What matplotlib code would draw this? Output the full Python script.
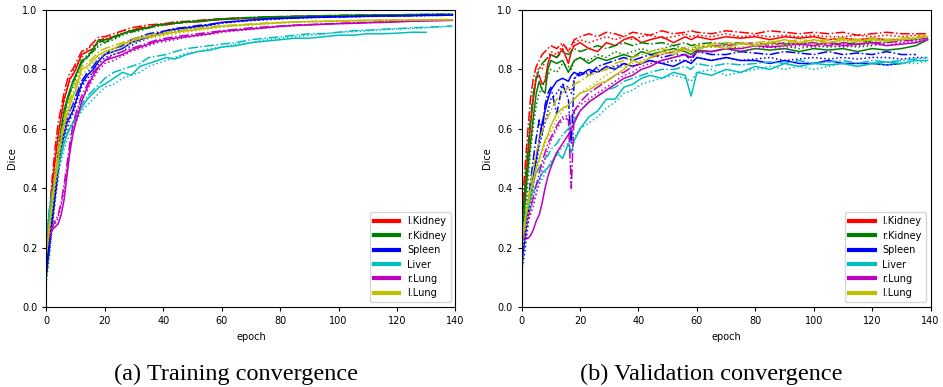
import matplotlib
matplotlib.use('Agg')
import matplotlib.pyplot as plt

organs = ['l.Kidney', 'r.Kidney', 'Spleen', 'Liver', 'r.Lung', 'l.Lung']
cores = ['r', 'g', 'b', 'c', 'm', 'y']

# epocas amostradas (treino)
ep_tr = [0,1,2,3,4,5,6,7,8,9,10,12,14,16,18,20,23,26,29,32,35,38,41,44,48,52,56,60,
         65,70,75,80,85,90,95,100,105,110,115,120,125,130,135,139]

tk_s = [0.20,0.30,0.41,0.50,0.58,0.64,0.70,0.73,0.77,0.78,0.80,0.85,0.86,0.87,0.90,0.90,0.91,0.92,0.93,0.94,0.94,0.95,0.95,0.955,0.96,0.96,0.965,0.968,0.97,0.972,0.974,0.976,0.977,0.978,0.979,0.98,0.98,0.981,0.981,0.982,0.982,0.983,0.983,0.984]
tk_d = [0.20,0.32,0.44,0.54,0.62,0.67,0.72,0.76,0.79,0.80,0.82,0.86,0.87,0.89,0.91,0.91,0.92,0.93,0.94,0.945,0.95,0.952,0.955,0.96,0.962,0.965,0.968,0.97,0.972,0.974,0.976,0.977,0.978,0.979,0.98,0.981,0.981,0.982,0.982,0.983,0.983,0.984,0.984]
tk_o = [0.19,0.29,0.39,0.49,0.57,0.63,0.69,0.74,0.76,0.79,0.81,0.84,0.87,0.88,0.89,0.91,0.91,0.93,0.93,0.94,0.945,0.95,0.953,0.957,0.96,0.962,0.966,0.969,0.971,0.973,0.975,0.977,0.978,0.979,0.98,0.98,0.981,0.982,0.982,0.983,0.983,0.984]

trk_s = [0.12,0.22,0.33,0.43,0.52,0.60,0.66,0.70,0.73,0.76,0.78,0.83,0.84,0.87,0.90,0.89,0.91,0.92,0.93,0.935,0.94,0.95,0.953,0.955,0.96,0.962,0.966,0.97,0.972,0.974,0.976,0.977,0.978,0.979,0.98,0.981,0.982,0.982,0.983,0.983,0.984,0.985,0.985,0.986]
trk_d = [0.11,0.21,0.32,0.42,0.51,0.58,0.64,0.69,0.72,0.75,0.78,0.82,0.85,0.86,0.89,0.90,0.905,0.92,0.925,0.935,0.94,0.948,0.952,0.956,0.96,0.963,0.967,0.97,0.973,0.975,0.977,0.978,0.979,0.98,0.981,0.982,0.983,0.983,0.984,0.984,0.985,0.985,0.986,0.986]
trk_o = [0.09,0.17,0.28,0.38,0.48,0.56,0.63,0.68,0.72,0.74,0.77,0.82,0.84,0.86,0.88,0.89,0.90,0.915,0.925,0.93,0.94,0.945,0.95,0.955,0.958,0.962,0.965,0.968,0.971,0.973,0.975,0.977,0.978,0.979,0.98,0.981,0.982,0.983,0.983,0.984,0.984,0.985,0.985]

ts_s = [0.13,0.22,0.30,0.38,0.46,0.53,0.58,0.62,0.64,0.66,0.69,0.75,0.78,0.80,0.83,0.85,0.86,0.87,0.89,0.90,0.91,0.92,0.93,0.935,0.94,0.945,0.95,0.958,0.962,0.966,0.97,0.972,0.973,0.975,0.976,0.977,0.978,0.979,0.98,0.98,0.981,0.982,0.982,0.983]
ts_d = [0.12,0.21,0.30,0.39,0.47,0.54,0.59,0.63,0.66,0.68,0.71,0.76,0.79,0.81,0.84,0.85,0.87,0.88,0.90,0.91,0.92,0.925,0.93,0.938,0.942,0.948,0.952,0.958,0.962,0.966,0.969,0.971,0.973,0.975,0.976,0.977,0.978,0.979,0.98,0.98,0.981,0.982,0.982,0.983]
ts_o = [0.11,0.19,0.27,0.36,0.44,0.51,0.56,0.60,0.63,0.65,0.68,0.74,0.77,0.79,0.82,0.84,0.85,0.86,0.88,0.895,0.905,0.915,0.925,0.93,0.937,0.942,0.948,0.955,0.96,0.964,0.967,0.97,0.972,0.974,0.975,0.976,0.977,0.978,0.979,0.98,0.98,0.981,0.982]

tl_s = [0.24,0.32,0.38,0.43,0.47,0.51,0.55,0.58,0.60,0.62,0.63,0.67,0.70,0.72,0.74,0.75,0.77,0.79,0.78,0.81,0.82,0.83,0.84,0.835,0.85,0.86,0.865,0.875,0.88,0.89,0.895,0.90,0.905,0.905,0.91,0.915,0.915,0.92,0.92,0.922,0.925,0.925]
tl_d = [0.25,0.33,0.39,0.44,0.48,0.52,0.56,0.58,0.61,0.62,0.64,0.68,0.71,0.73,0.75,0.77,0.79,0.80,0.81,0.82,0.84,0.845,0.85,0.86,0.87,0.875,0.88,0.885,0.89,0.9,0.905,0.91,0.915,0.92,0.92,0.925,0.93,0.932,0.935,0.937,0.94,0.942,0.944,0.946]
tl_o = [0.22,0.30,0.36,0.41,0.45,0.49,0.53,0.56,0.58,0.60,0.62,0.66,0.68,0.70,0.72,0.74,0.75,0.77,0.78,0.79,0.81,0.82,0.83,0.84,0.855,0.86,0.87,0.875,0.885,0.89,0.9,0.905,0.91,0.915,0.92,0.925,0.927,0.93,0.933,0.936,0.938,0.94,0.943,0.945]

tr_s = [0.20,0.24,0.26,0.27,0.28,0.31,0.36,0.44,0.52,0.58,0.62,0.69,0.74,0.78,0.81,0.83,0.84,0.85,0.865,0.875,0.885,0.895,0.9,0.905,0.91,0.915,0.92,0.928,0.932,0.936,0.94,0.945,0.948,0.95,0.952,0.954,0.955,0.957,0.958,0.96,0.962,0.963,0.964,0.965]
tr_d = [0.21,0.25,0.27,0.29,0.31,0.35,0.41,0.48,0.55,0.61,0.65,0.71,0.75,0.79,0.81,0.83,0.85,0.86,0.87,0.88,0.89,0.9,0.905,0.91,0.915,0.92,0.925,0.93,0.935,0.94,0.943,0.946,0.949,0.951,0.953,0.955,0.957,0.958,0.96,0.962,0.963,0.965,0.966,0.967]
tr_o = [0.19,0.23,0.26,0.28,0.30,0.34,0.39,0.46,0.53,0.59,0.63,0.70,0.73,0.77,0.80,0.82,0.83,0.845,0.86,0.87,0.88,0.89,0.895,0.9,0.908,0.913,0.918,0.925,0.93,0.935,0.94,0.944,0.947,0.95,0.952,0.954,0.956,0.958,0.96,0.961,0.963,0.964,0.966,0.967]

ty_s = [0.19,0.27,0.35,0.43,0.50,0.56,0.61,0.65,0.68,0.71,0.73,0.80,0.81,0.83,0.85,0.86,0.87,0.885,0.895,0.905,0.91,0.915,0.92,0.925,0.93,0.935,0.94,0.945,0.948,0.951,0.954,0.957,0.96,0.961,0.962,0.963,0.964,0.965,0.965,0.966,0.966,0.967,0.967,0.967]
ty_d = [0.20,0.28,0.37,0.45,0.52,0.58,0.63,0.67,0.70,0.72,0.75,0.81,0.82,0.84,0.86,0.87,0.88,0.89,0.9,0.91,0.915,0.92,0.925,0.93,0.935,0.94,0.943,0.947,0.95,0.953,0.956,0.958,0.96,0.961,0.962,0.963,0.964,0.965,0.966,0.966,0.967,0.967,0.968,0.968]
ty_o = [0.18,0.25,0.33,0.41,0.48,0.54,0.59,0.63,0.66,0.69,0.72,0.78,0.80,0.82,0.84,0.85,0.86,0.875,0.89,0.9,0.905,0.91,0.915,0.92,0.926,0.932,0.937,0.942,0.946,0.95,0.953,0.956,0.958,0.96,0.961,0.962,0.963,0.964,0.965,0.965,0.966,0.966,0.967,0.967]

# epocas amostradas (validacao)
ep_va = [0,1,2,3,4,5,6,7,8,9,10,12,14,16,17,18,20,23,26,29,32,35,38,41,44,48,52,56,58,60,
         65,70,75,80,85,90,95,100,105,110,115,120,125,130,135,139]

vk_s = [0.28,0.38,0.49,0.61,0.70,0.77,0.78,0.75,0.76,0.82,0.85,0.84,0.87,0.82,0.86,0.88,0.89,0.87,0.86,0.89,0.88,0.90,0.91,0.89,0.90,0.91,0.89,0.91,0.90,0.91,0.90,0.91,0.905,0.91,0.90,0.91,0.905,0.91,0.90,0.905,0.90,0.905,0.90,0.90]
vk_d = [0.30,0.45,0.58,0.70,0.77,0.81,0.83,0.85,0.86,0.87,0.88,0.87,0.89,0.86,0.88,0.90,0.91,0.92,0.91,0.925,0.92,0.91,0.925,0.92,0.915,0.93,0.92,0.925,0.93,0.925,0.92,0.93,0.925,0.92,0.93,0.925,0.92,0.925,0.92,0.925,0.915,0.92,0.925,0.92,0.92,0.92]
vk_o = [0.27,0.40,0.52,0.63,0.72,0.78,0.81,0.80,0.83,0.84,0.86,0.85,0.88,0.87,0.86,0.89,0.90,0.89,0.90,0.91,0.90,0.91,0.90,0.91,0.915,0.905,0.91,0.92,0.91,0.915,0.91,0.92,0.91,0.915,0.91,0.915,0.91,0.915,0.91,0.91,0.915,0.91,0.915,0.91,0.915,0.91]

vrk_s = [0.20,0.33,0.45,0.55,0.64,0.72,0.76,0.73,0.72,0.80,0.83,0.82,0.83,0.79,0.81,0.83,0.84,0.82,0.84,0.83,0.84,0.85,0.84,0.86,0.85,0.86,0.87,0.86,0.85,0.865,0.86,0.87,0.86,0.87,0.865,0.87,0.86,0.87,0.865,0.87,0.86,0.87,0.865,0.87,0.88,0.90]
vrk_d = [0.22,0.38,0.52,0.63,0.72,0.77,0.80,0.82,0.83,0.84,0.85,0.84,0.86,0.85,0.86,0.87,0.86,0.87,0.88,0.87,0.88,0.89,0.88,0.89,0.885,0.89,0.88,0.89,0.88,0.885,0.89,0.885,0.89,0.88,0.89,0.885,0.89,0.885,0.89,0.885,0.89,0.895,0.90]
vrk_o = [0.10,0.25,0.40,0.52,0.61,0.68,0.72,0.74,0.76,0.78,0.80,0.79,0.82,0.81,0.80,0.83,0.84,0.83,0.85,0.84,0.86,0.85,0.86,0.87,0.86,0.87,0.88,0.87,0.86,0.88,0.875,0.88,0.87,0.88,0.875,0.88,0.87,0.88,0.875,0.88,0.875,0.88,0.89,0.90,0.90,0.905]

vs_s = [0.15,0.22,0.30,0.38,0.44,0.50,0.56,0.62,0.66,0.70,0.73,0.76,0.77,0.76,0.78,0.79,0.78,0.80,0.79,0.81,0.80,0.82,0.81,0.82,0.83,0.82,0.81,0.83,0.82,0.84,0.83,0.84,0.83,0.83,0.82,0.83,0.82,0.82,0.83,0.82,0.82,0.82,0.815,0.82]
vs_d = [0.17,0.24,0.33,0.42,0.50,0.57,0.63,0.58,0.68,0.72,0.74,0.65,0.75,0.70,0.55,0.77,0.79,0.78,0.81,0.82,0.83,0.84,0.83,0.84,0.85,0.84,0.85,0.85,0.83,0.86,0.85,0.85,0.86,0.855,0.85,0.86,0.855,0.85,0.86,0.85,0.855,0.85,0.86,0.85,0.85]
vs_o = [0.12,0.18,0.26,0.34,0.41,0.48,0.54,0.58,0.62,0.66,0.70,0.72,0.75,0.74,0.72,0.77,0.78,0.79,0.80,0.80,0.81,0.82,0.81,0.82,0.83,0.82,0.83,0.83,0.82,0.84,0.83,0.84,0.83,0.835,0.84,0.83,0.835,0.84,0.835,0.84,0.835,0.84,0.84,0.835,0.84,0.84]

vl_s = [0.25,0.29,0.33,0.36,0.39,0.41,0.43,0.45,0.46,0.47,0.48,0.52,0.50,0.55,0.52,0.56,0.60,0.64,0.66,0.70,0.70,0.74,0.75,0.77,0.78,0.77,0.79,0.78,0.71,0.79,0.78,0.80,0.79,0.81,0.80,0.82,0.81,0.82,0.815,0.82,0.81,0.82,0.825,0.82,0.83,0.83]
vl_d = [0.24,0.29,0.34,0.38,0.42,0.45,0.47,0.48,0.50,0.51,0.53,0.55,0.58,0.60,0.61,0.63,0.66,0.69,0.71,0.73,0.74,0.76,0.77,0.78,0.79,0.80,0.80,0.81,0.80,0.82,0.81,0.82,0.815,0.82,0.825,0.82,0.83,0.82,0.825,0.83,0.82,0.83,0.825,0.83,0.835,0.84]
vl_o = [0.22,0.26,0.30,0.33,0.36,0.39,0.41,0.43,0.45,0.47,0.49,0.51,0.54,0.55,0.56,0.57,0.60,0.62,0.64,0.67,0.69,0.72,0.73,0.75,0.76,0.77,0.78,0.77,0.76,0.79,0.80,0.78,0.79,0.80,0.81,0.80,0.81,0.80,0.81,0.82,0.81,0.82,0.815,0.82,0.82,0.83]

vr_s = [0.25,0.24,0.23,0.24,0.26,0.29,0.31,0.35,0.40,0.44,0.47,0.52,0.55,0.58,0.60,0.62,0.66,0.69,0.71,0.73,0.75,0.77,0.78,0.80,0.81,0.83,0.84,0.85,0.84,0.86,0.86,0.87,0.87,0.88,0.875,0.88,0.885,0.88,0.89,0.88,0.885,0.89,0.88,0.885,0.89,0.90]
vr_d = [0.24,0.27,0.30,0.33,0.37,0.41,0.45,0.49,0.52,0.55,0.57,0.61,0.64,0.63,0.40,0.66,0.69,0.72,0.74,0.76,0.78,0.79,0.81,0.82,0.84,0.85,0.86,0.87,0.86,0.87,0.88,0.88,0.885,0.89,0.88,0.89,0.885,0.89,0.88,0.89,0.885,0.89,0.89,0.895,0.9,0.905]
vr_o = [0.22,0.25,0.28,0.31,0.34,0.38,0.42,0.46,0.50,0.53,0.56,0.60,0.63,0.65,0.64,0.66,0.68,0.70,0.72,0.74,0.76,0.78,0.79,0.81,0.82,0.83,0.84,0.85,0.84,0.86,0.86,0.87,0.86,0.87,0.875,0.87,0.88,0.875,0.88,0.875,0.88,0.885,0.88,0.89,0.895,0.9]

vy_s = [0.22,0.28,0.34,0.39,0.43,0.47,0.50,0.53,0.56,0.58,0.61,0.65,0.67,0.68,0.69,0.70,0.72,0.73,0.75,0.76,0.78,0.80,0.83,0.82,0.84,0.86,0.85,0.87,0.86,0.87,0.88,0.87,0.89,0.88,0.89,0.90,0.89,0.90,0.89,0.90,0.895,0.90,0.895,0.90,0.905,0.91]
vy_d = [0.20,0.27,0.34,0.41,0.47,0.52,0.56,0.59,0.62,0.64,0.66,0.70,0.72,0.74,0.73,0.75,0.76,0.78,0.79,0.80,0.82,0.83,0.84,0.85,0.86,0.87,0.86,0.875,0.87,0.88,0.885,0.89,0.885,0.89,0.895,0.89,0.9,0.895,0.9,0.905,0.9,0.905,0.9,0.905,0.91,0.915]
vy_o = [0.18,0.24,0.30,0.36,0.41,0.45,0.49,0.52,0.55,0.57,0.59,0.63,0.66,0.68,0.69,0.70,0.72,0.74,0.76,0.78,0.80,0.81,0.82,0.83,0.84,0.85,0.86,0.865,0.86,0.87,0.875,0.88,0.875,0.88,0.885,0.88,0.89,0.885,0.89,0.895,0.89,0.895,0.9,0.9,0.905,0.91]

treino = [(tk_s, tk_d, tk_o), (trk_s, trk_d, trk_o), (ts_s, ts_d, ts_o),
          (tl_s, tl_d, tl_o), (tr_s, tr_d, tr_o), (ty_s, ty_d, ty_o)]
valid = [(vk_s, vk_d, vk_o), (vrk_s, vrk_d, vrk_o), (vs_s, vs_d, vs_o),
         (vl_s, vl_d, vl_o), (vr_s, vr_d, vr_o), (vy_s, vy_d, vy_o)]

fig = plt.figure(figsize=(9.43, 3.87), dpi=100)
ax1 = fig.add_axes([0.0493, 0.2067, 0.4336, 0.7675])
ax2 = fig.add_axes([0.5532, 0.2067, 0.4336, 0.7675])

for ax, ep, dados in [(ax1, ep_tr, treino), (ax2, ep_va, valid)]:
    for nome, cor, (s, d, o) in zip(organs, cores, dados):
        ax.plot(ep[:len(s)], s, color=cor, ls='-', lw=1.1, label=nome)
        ax.plot(ep[:len(d)], d, color=cor, ls='-.', lw=1.1)
        ax.plot(ep[:len(o)], o, color=cor, ls=':', lw=1.1)
    ax.set_xlim(0, 140)
    ax.set_ylim(0, 1.0)
    ax.tick_params(labelsize=7, length=3)
    ax.set_xlabel('epoch', fontsize=7)
    ax.set_ylabel('Dice', fontsize=7)
    leg = ax.legend(loc='lower right', fontsize=7, handlelength=2.6, labelspacing=0.45)
    for l in leg.get_lines():
        l.set_linewidth(3)

#legendas das figuras
fig.text(0.25, 0.033, '(a) Training convergence', ha='center', va='center',
         family='Liberation Serif', fontsize=17.5)
fig.text(0.754, 0.033, '(b) Validation convergence', ha='center', va='center',
         family='Liberation Serif', fontsize=17.5)

fig.savefig('out.png', dpi=100)
